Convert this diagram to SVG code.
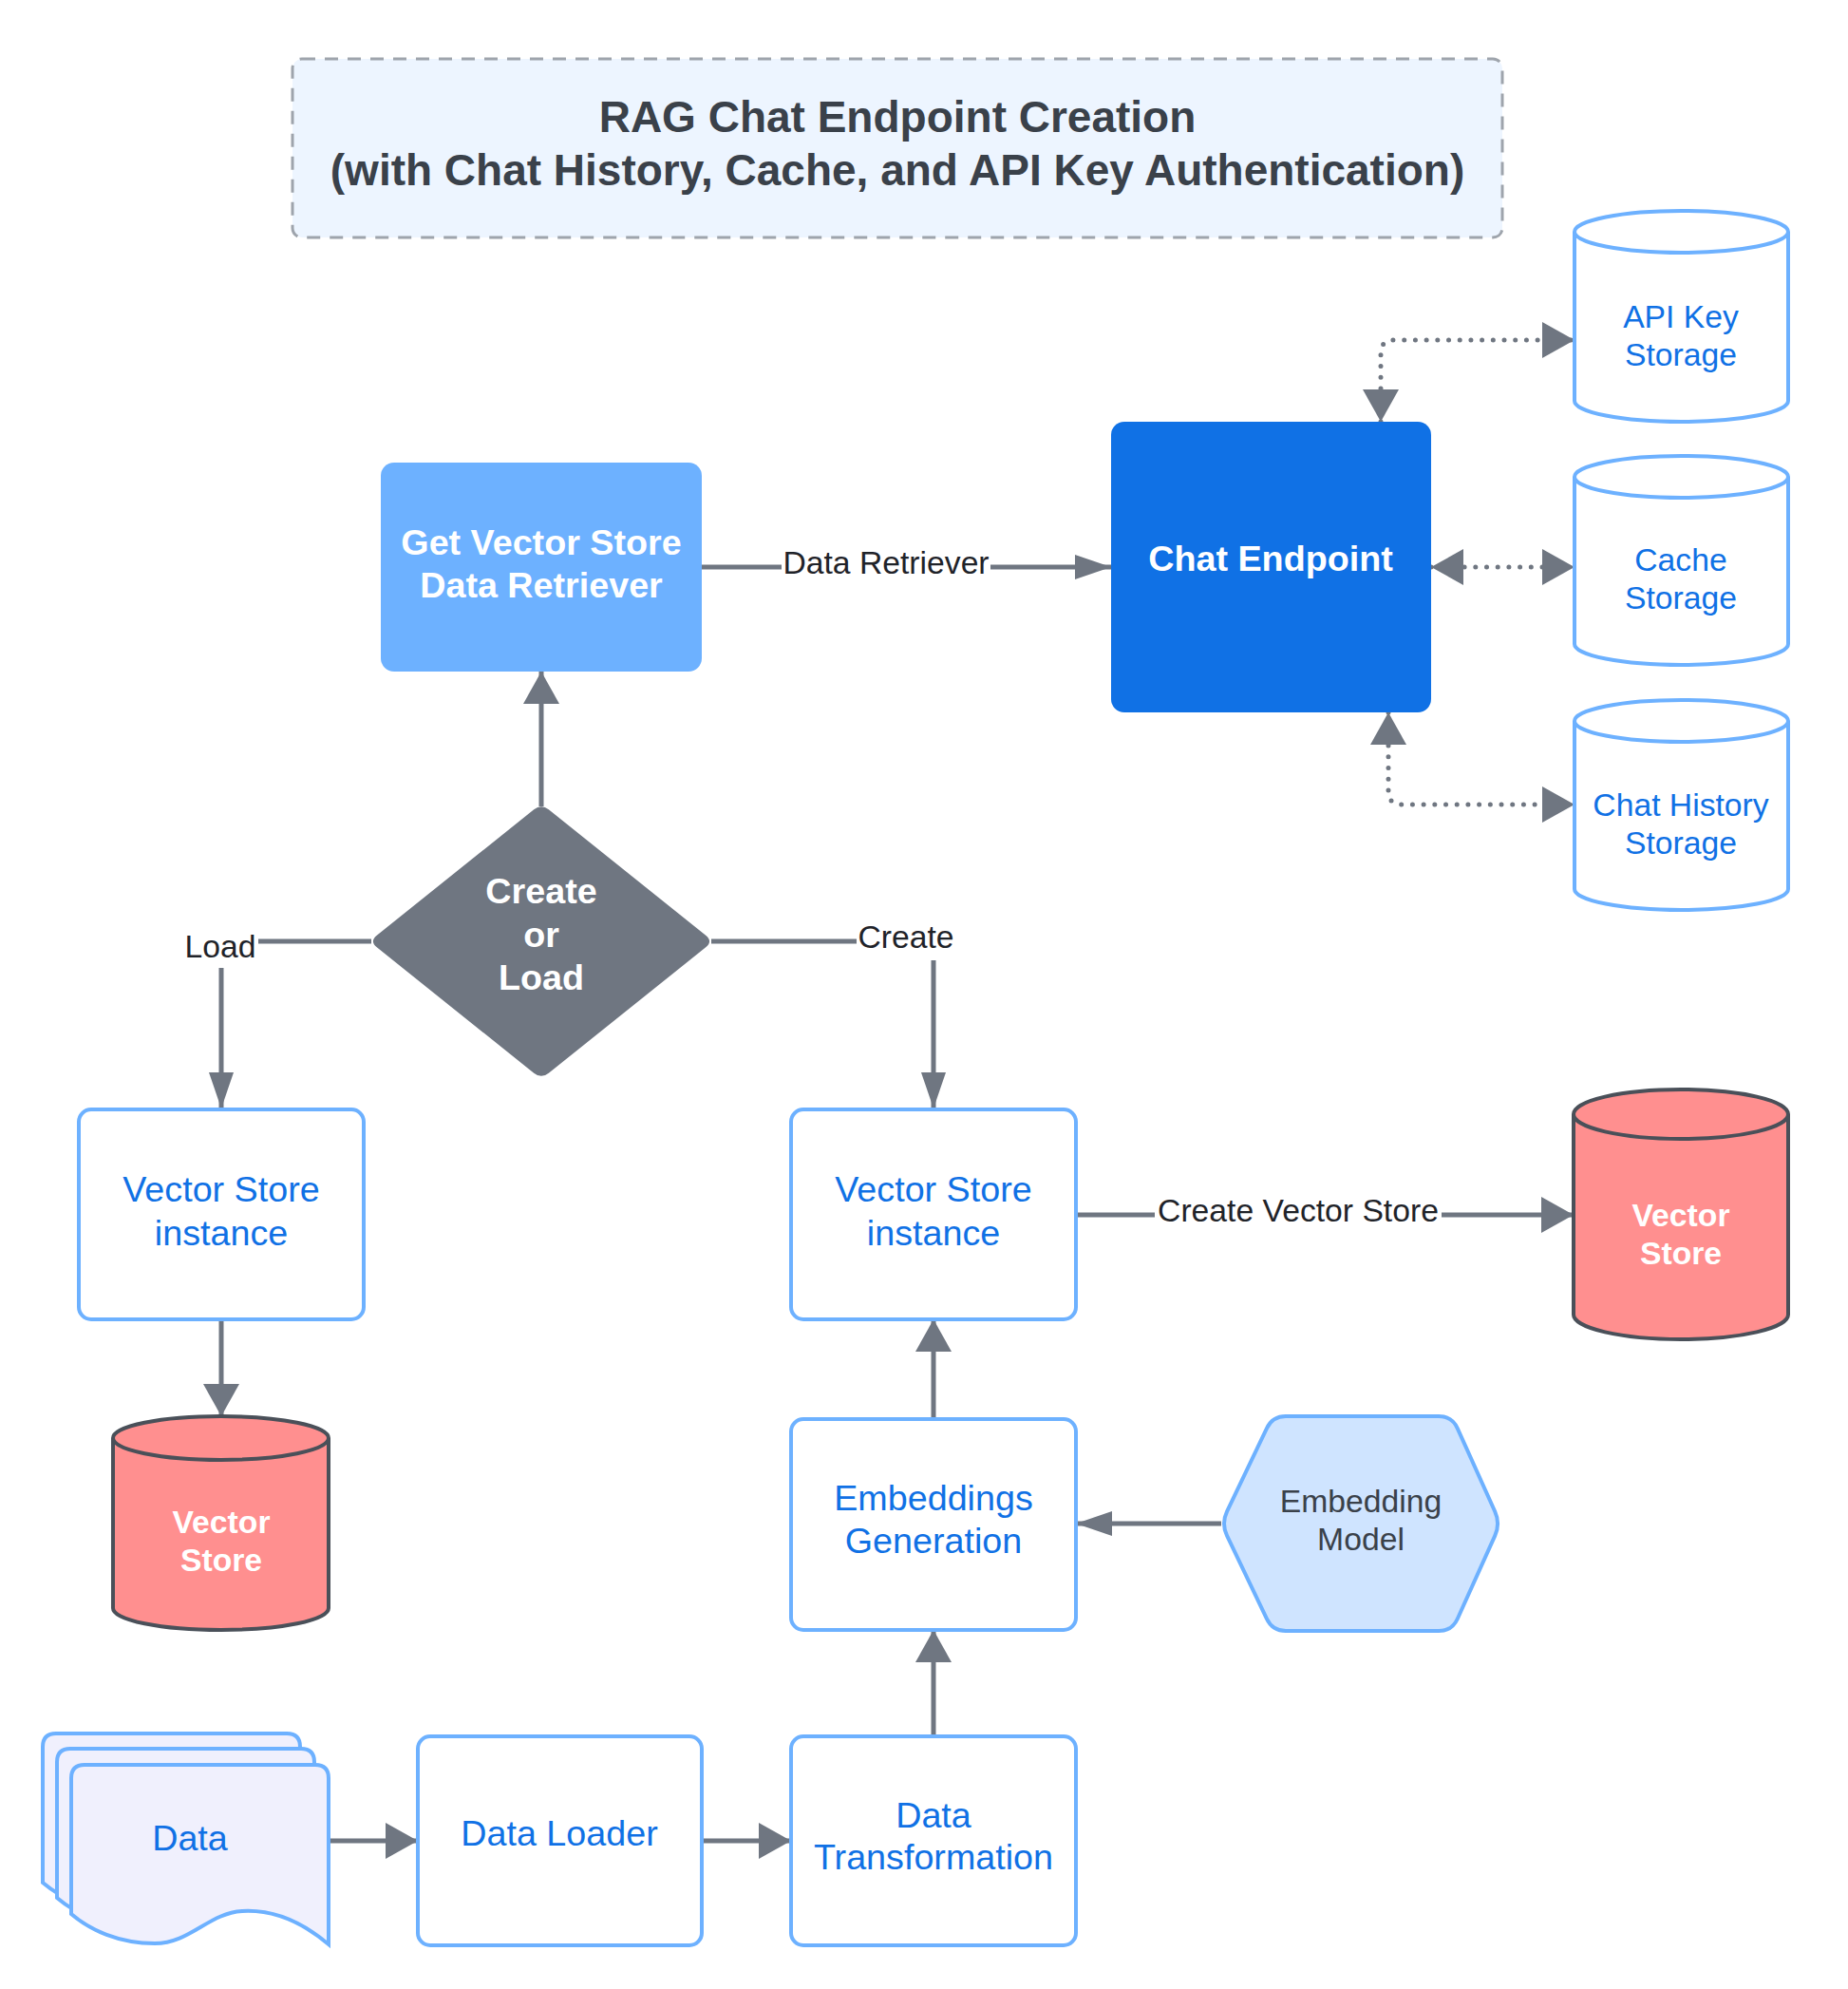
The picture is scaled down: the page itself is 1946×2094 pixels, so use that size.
<svg xmlns="http://www.w3.org/2000/svg" width="1946" height="2094" viewBox="0 0 1946 2094">
<style>
text{font-family:"Liberation Sans",Arial,sans-serif;text-anchor:middle}
.t37{font-size:37.7px}
.t33{font-size:33.7px}
.b{font-weight:bold}
.wh{fill:#ffffff}
.bl{fill:#1071e5}
.dk{fill:#3a414a}
.lb{fill:#1f2329;font-size:33.7px}
.box{fill:#ffffff;stroke:#6db1ff;stroke-width:4}
.cyl{fill:#ffffff;stroke:#6db1ff;stroke-width:4}
.red{fill:#ff8f8f;stroke:#4a5059;stroke-width:4}
.ln{fill:none;stroke:#6f7681;stroke-width:5}
.dot{fill:none;stroke:#6f7681;stroke-width:5;stroke-linecap:round;stroke-dasharray:0 11.7}
.lbg{fill:#ffffff}
</style>
<defs>
<marker id="ah" markerUnits="userSpaceOnUse" markerWidth="34" markerHeight="38" refX="34" refY="19" orient="auto-start-reverse"><path d="M0,0 L34,19 L0,38 Z" fill="#6f7681"/></marker>
<marker id="an" markerUnits="userSpaceOnUse" markerWidth="38" markerHeight="26" refX="38" refY="13" orient="auto-start-reverse"><path d="M0,0 L38,13 L0,26 Z" fill="#6f7681"/></marker>
</defs>
<rect width="1946" height="2094" fill="#ffffff"/>

<g id="title">
<rect x="308" y="62" width="1274" height="188" rx="10" fill="#edf5ff" stroke="#9ea4ac" stroke-width="3" stroke-dasharray="14 10"/>
<text x="945" y="139" class="b dk" style="font-size:46px">RAG Chat Endpoint Creation</text>
<text x="945" y="195" class="b dk" style="font-size:46px">(with Chat History, Cache, and API Key Authentication)</text>
</g>

<g id="connectors">
<path class="ln" d="M739,597 H1170" marker-end="url(#an)"/>
<path class="dot" d="M1454,444 V372 Q1454,358 1468,358 H1658" marker-start="url(#ah)" marker-end="url(#ah)"/>
<path class="dot" d="M1507,597 H1658" marker-start="url(#ah)" marker-end="url(#ah)"/>
<path class="dot" d="M1462,750 V833 Q1462,847 1476,847 H1658" marker-start="url(#ah)" marker-end="url(#ah)"/>
<path class="ln" d="M570,849 V707" marker-end="url(#ah)"/>
<path class="ln" d="M391,991 H233 V1167" marker-end="url(#an)"/>
<path class="ln" d="M749,991 H983 V1167" marker-end="url(#an)"/>
<path class="ln" d="M1133,1279 H1657" marker-end="url(#ah)"/>
<path class="ln" d="M233,1389 V1491" marker-end="url(#ah)"/>
<path class="ln" d="M983,1494 V1389" marker-end="url(#ah)"/>
<path class="ln" d="M1286,1604 H1133" marker-end="url(#an)"/>
<path class="ln" d="M983,1828 V1716" marker-end="url(#ah)"/>
<path class="ln" d="M346,1938 H440" marker-end="url(#ah)"/>
<path class="ln" d="M739,1938 H833" marker-end="url(#ah)"/>
<rect class="lbg" x="823" y="574" width="220" height="42"/>
<text x="933" y="604" class="lb">Data Retriever</text>
<rect class="lbg" x="193" y="974" width="79" height="45"/>
<text x="232" y="1008" class="lb">Load</text>
<rect class="lbg" x="902" y="964" width="104" height="47"/>
<text x="954" y="998" class="lb">Create</text>
<rect class="lbg" x="1216" y="1254" width="302" height="44"/>
<text x="1367" y="1286" class="lb">Create Vector Store</text>
</g>

<g id="get-vector-store">
<rect x="401" y="487" width="338" height="220" rx="14" fill="#6db1ff"/>
<text x="570" y="584" class="t37 b wh">Get Vector Store</text>
<text x="570" y="629" class="t37 b wh">Data Retriever</text>
</g>

<g id="chat-endpoint">
<rect x="1170" y="444" width="337" height="306" rx="14" fill="#1071e5"/>
<text x="1338" y="601" class="t37 b wh">Chat Endpoint</text>
</g>

<g id="api-key-storage">
<path class="cyl" d="M1658,244 A112.5,22 0 0 1 1883,244 V422 A112.5,22 0 0 1 1658,422 Z"/>
<path class="cyl" d="M1658,244 A112.5,22 0 0 0 1883,244" fill="none"/>
<text x="1770" y="345" class="t33 bl">API Key</text>
<text x="1770" y="385" class="t33 bl">Storage</text>
</g>

<g id="cache-storage">
<path class="cyl" d="M1658,502 A112.5,22 0 0 1 1883,502 V678 A112.5,22 0 0 1 1658,678 Z"/>
<path class="cyl" d="M1658,502 A112.5,22 0 0 0 1883,502" fill="none"/>
<text x="1770" y="601" class="t33 bl">Cache</text>
<text x="1770" y="641" class="t33 bl">Storage</text>
</g>

<g id="chat-history-storage">
<path class="cyl" d="M1658,759 A112.5,22 0 0 1 1883,759 V936 A112.5,22 0 0 1 1658,936 Z"/>
<path class="cyl" d="M1658,759 A112.5,22 0 0 0 1883,759" fill="none"/>
<text x="1770" y="859" class="t33 bl">Chat History</text>
<text x="1770" y="899" class="t33 bl">Storage</text>
</g>

<g id="create-or-load">
<path d="M577.8,852.3 L743.2,984.7 Q751,991 743.2,997.3 L577.8,1129.7 Q570,1136 562.2,1129.7 L396.8,997.3 Q389,991 396.8,984.7 L562.2,852.3 Q570,846 577.8,852.3 Z" fill="#6f7681"/>
<text x="570" y="951" class="t37 b wh">Create</text>
<text x="570" y="997" class="t37 b wh">or</text>
<text x="570" y="1042" class="t37 b wh">Load</text>
</g>

<g id="vs-instance-load">
<rect class="box" x="83" y="1168" width="300" height="221" rx="13"/>
<text x="233" y="1265" class="t37 bl">Vector Store</text>
<text x="233" y="1311" class="t37 bl">instance</text>
</g>

<g id="vs-instance-create">
<rect class="box" x="833" y="1168" width="300" height="221" rx="13"/>
<text x="983" y="1265" class="t37 bl">Vector Store</text>
<text x="983" y="1311" class="t37 bl">instance</text>
</g>

<g id="vector-store-right">
<path class="red" d="M1657,1173 A113,26 0 0 1 1883,1173 V1384 A113,26 0 0 1 1657,1384 Z"/>
<path class="red" d="M1657,1173 A113,26 0 0 0 1883,1173" fill="none"/>
<text x="1770" y="1291" class="t33 b wh">Vector</text>
<text x="1770" y="1331" class="t33 b wh">Store</text>
</g>

<g id="vector-store-left">
<path class="red" d="M119,1514 A113.5,23 0 0 1 346,1514 V1693 A113.5,23 0 0 1 119,1693 Z"/>
<path class="red" d="M119,1514 A113.5,23 0 0 0 346,1514" fill="none"/>
<text x="233" y="1614" class="t33 b wh">Vector</text>
<text x="233" y="1654" class="t33 b wh">Store</text>
</g>

<g id="embeddings-generation">
<rect class="box" x="833" y="1494" width="300" height="222" rx="13"/>
<text x="983" y="1590" class="t37 bl">Embeddings</text>
<text x="983" y="1635" class="t37 bl">Generation</text>
</g>

<g id="embedding-model">
<path d="M1354,1491 H1515 Q1529,1491 1534.8,1503.8 L1574.2,1591.2 Q1580,1604 1574.2,1616.8 L1534.8,1704.2 Q1529,1717 1515,1717 H1354 Q1340,1717 1334,1704.4 L1292,1616.6 Q1286,1604 1292,1591.4 L1334,1503.6 Q1340,1491 1354,1491 Z" fill="#cfe4ff" stroke="#6db1ff" stroke-width="4"/>
<text x="1433" y="1592" class="t33 dk">Embedding</text>
<text x="1433" y="1632" class="t33 dk">Model</text>
</g>

<g id="data">
<path d="M75,2015 V1872 Q75,1858 89,1858 H332 Q346,1858 346,1872 V2047 C320,2025 290,2010 255,2012 C220,2014 200,2046 163,2046 C125,2046 95,2032 75,2015 Z" fill="#f0f0fd" stroke="#6db1ff" stroke-width="4" transform="translate(-30,-33)"/>
<path d="M75,2015 V1872 Q75,1858 89,1858 H332 Q346,1858 346,1872 V2047 C320,2025 290,2010 255,2012 C220,2014 200,2046 163,2046 C125,2046 95,2032 75,2015 Z" fill="#f0f0fd" stroke="#6db1ff" stroke-width="4" transform="translate(-15,-17)"/>
<path d="M75,2015 V1872 Q75,1858 89,1858 H332 Q346,1858 346,1872 V2047 C320,2025 290,2010 255,2012 C220,2014 200,2046 163,2046 C125,2046 95,2032 75,2015 Z" fill="#f0f0fd" stroke="#6db1ff" stroke-width="4"/>
<text x="200" y="1948" class="t37 bl">Data</text>
</g>

<g id="data-loader">
<rect class="box" x="440" y="1828" width="299" height="220" rx="13"/>
<text x="589" y="1943" class="t37 bl">Data Loader</text>
</g>

<g id="data-transformation">
<rect class="box" x="833" y="1828" width="300" height="220" rx="13"/>
<text x="983" y="1924" class="t37 bl">Data</text>
<text x="983" y="1968" class="t37 bl">Transformation</text>
</g>
</svg>
